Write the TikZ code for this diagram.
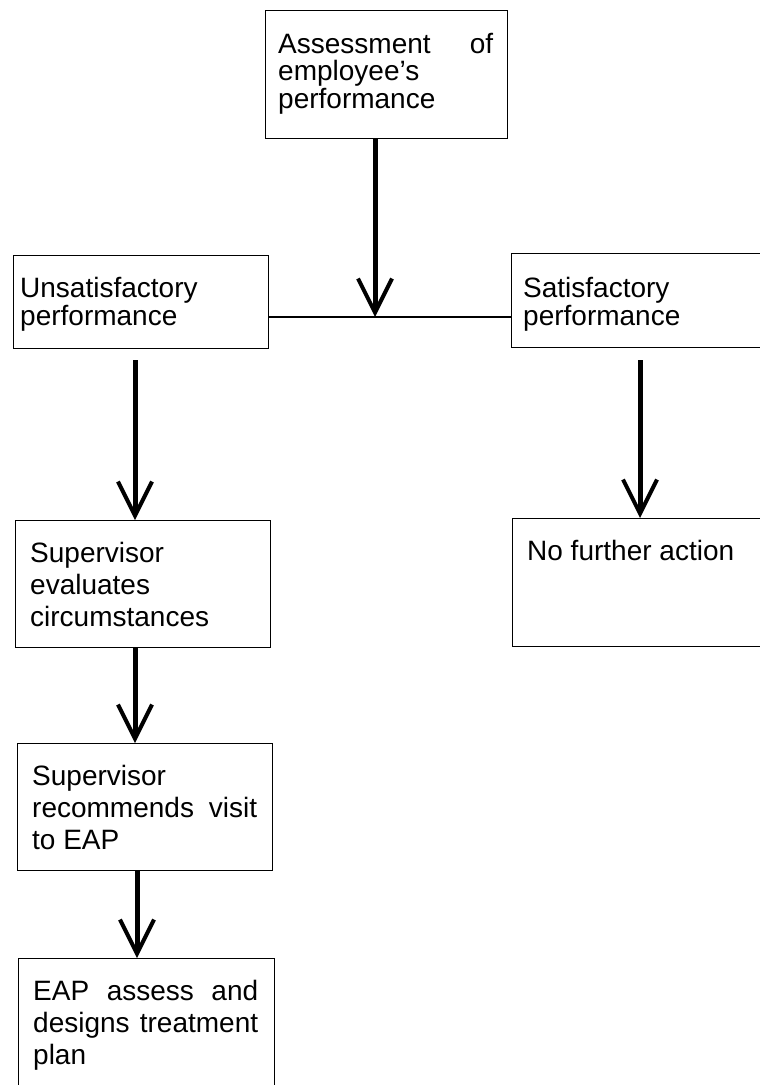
\documentclass[tikz,border=0pt]{standalone}
\usepackage{fontspec}
\setmainfont{Liberation Sans}
\usetikzlibrary{arrows.meta}
\begin{document}
\begin{tikzpicture}[x=1pt,y=-1pt,
  box/.style={draw, line width=1.3pt, inner sep=0pt, anchor=north west},
  txt/.style={anchor=base west, inner sep=0pt},
  arr/.style={line width=5pt, -{Straight Barb[length=34pt,width=34pt,line width=4pt]}},
  joinline/.style={line width=1.3pt}]
\useasboundingbox (0,0) rectangle (760,1085);
\clip (0,0) rectangle (760,1085);
% boxes
\node[box, minimum width=242pt, minimum height=128pt] (b1) at (265,10) {};
\node[box, minimum width=255pt, minimum height=93pt] (b2) at (13,255) {};
\node[box, minimum width=252pt, minimum height=94pt] (b3) at (511,253) {};
\node[box, minimum width=255pt, minimum height=127pt] (b4) at (15,520) {};
\node[box, minimum width=252pt, minimum height=128pt] (b5) at (512,518) {};
\node[box, minimum width=255pt, minimum height=127pt] (b6) at (17,743) {};
\node[box, minimum width=256pt, minimum height=140pt] (b7) at (18,958) {};
% texts
\newcommand{\boxtext}[3]{\parbox[t]{#1}{\fontsize{28}{#2}\selectfont #3}}
\node[txt] (t1) at (278,53) {\boxtext{215pt}{27.5pt}{Assessment\hfill of\\employee's\\performance}};
\node[txt] (t2) at (20,297) {\boxtext{240pt}{28pt}{Unsatisfactory\\performance}};
\node[txt] (t3) at (523,297) {\boxtext{230pt}{28pt}{Satisfactory\\performance}};
\node[txt] (t4) at (30,562) {\boxtext{230pt}{32pt}{Supervisor\\evaluates\\circumstances}};
\node[txt] (t5) at (527,560) {\boxtext{230pt}{32pt}{No further action}};
\node[txt] (t6) at (32,785) {\boxtext{225pt}{32pt}{Supervisor\\recommends\hfill visit\\to EAP}};
\node[txt] (t7) at (33,1000) {\boxtext{225pt}{32pt}{EAP\hfill assess\hfill and\\designs\hfill treatment\\plan}};
% connectors
\coordinate (j) at (375,317);
\draw[joinline] (b2.east |- j) -- (b3.west |- j);
\draw[arr] (b1.south -| j) -- (j);
\coordinate (c2) at (135,360);
\draw[arr] (c2) -- (c2 |- b4.north);
\coordinate (c3) at (640,360);
\draw[arr] (c3) -- (c3 |- b5.north);
\coordinate (c4) at (135,647);
\draw[arr] (c4 |- b4.south) -- (c4 |- b6.north);
\coordinate (c6) at (137,870);
\draw[arr] (c6 |- b6.south) -- (c6 |- b7.north);
\end{tikzpicture}
\end{document}
